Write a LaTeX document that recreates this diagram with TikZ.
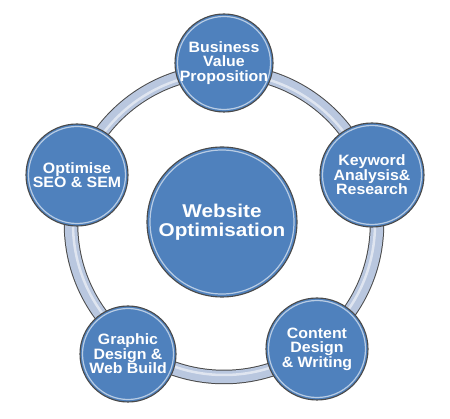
\documentclass[tikz,border=0pt]{standalone}
\usepackage{fontspec}
\setmainfont{Liberation Sans}
\newfontfamily\ballfont[FakeStretch=1.06]{Liberation Sans}
\newfontfamily\bigballfont[FakeStretch=1.12]{Liberation Sans}
\definecolor{ballblue}{HTML}{4F81BD}
\definecolor{ringfill}{HTML}{B9C7DF}
\definecolor{edgegray}{HTML}{4A4A4A}
\tikzset{
  ball/.style={circle, fill=ballblue, draw=edgegray, line width=1.1pt, inner sep=0pt,
    text=white, align=center, font=\ballfont\bfseries\fontsize{15}{14.5}\selectfont},
  bigball/.style={ball, font=\bigballfont\bfseries\fontsize{18.5}{19}\selectfont},
}
\begin{document}
\begin{tikzpicture}[x=1pt,y=-1pt]
\useasboundingbox (0,0) rectangle (450,419);
% ring band
\coordinate (rc) at (224,224);
\draw[edgegray, line width=14.5pt] (rc) circle[radius=153];
\draw[ringfill, line width=12.5pt] (rc) circle[radius=153];
\draw[white, opacity=0.55, line width=2.5pt] (rc) circle[radius=151];
% nodes
\node[bigball, minimum size=150] (c) at (222,222) {Website\\Optimisation};
\node[ball, minimum size=98] (b) at (224,63) {Business\\Value\\Proposition};
\node[ball, minimum size=104] (k) at (372,175) {Keyword\\Analysis\&\\Research};
\node[ball, minimum size=102] (w) at (317,349) {Content\\Design\\\& Writing};
\node[ball, minimum size=96] (g) at (128,354) {Graphic\\Design \&\\Web Build};
\node[ball, minimum size=102] (s) at (77,175) {Optimise\\SEO \& SEM};
% inner highlights
\foreach \n/\r in {c/72, b/46.5, k/49.5, w/48.5, g/45.5, s/48.5}{
  \draw[white, opacity=0.6, line width=1.2pt] (\n.center) circle[radius=\r];
}
\end{tikzpicture}
\end{document}
